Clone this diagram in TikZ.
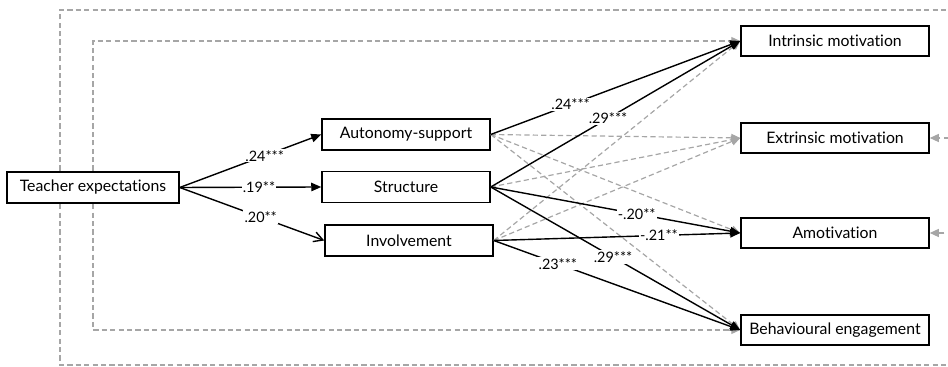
\documentclass[tikz,border=0pt]{standalone}
\usepackage{fontspec}
\setmainfont{Lato}[Ligatures=NoCommon]
\usetikzlibrary{arrows.meta,backgrounds}

\tikzset{
  box/.style={draw,line width=0.75pt,fill=white,minimum height=15.5pt,inner sep=0pt,font=\fontsize{7.9}{9}\selectfont},
  midbox/.style={box,minimum width=84pt},
  outbox/.style={box,minimum width=94pt,minimum height=15pt},
  sig/.style={draw=black,line width=0.7pt,-{Triangle[length=5pt,width=4.2pt]}},
  ns/.style={draw=black!35,line width=0.6pt,dash pattern=on 2.6pt off 1.6pt,-{Triangle[length=4.5pt,width=4pt]}},
  est/.style={fill=white,inner sep=0.6pt,font=\fontsize{7.2}{8}\selectfont}
}

\begin{document}
\begin{tikzpicture}[x=0.5pt,y=-0.5pt]
      \clip (0,0) rectangle (948,367);

      \node[box,minimum width=86pt] (te) at (93,187.5) {Teacher expectations};
      \node[midbox] (as) at (406,134.5) {Autonomy-support};
      \node[midbox] (st) at (406,187) {Structure};
      \node[midbox] (inv) at (409,240.5) {Involvement};
      \node[outbox] (im) at (835,41) {Intrinsic motivation};
      \node[outbox] (em) at (835,138) {Extrinsic motivation};
      \node[outbox] (am) at (835,233) {Amotivation};
      \node[outbox] (be) at (835,330) {Behavioural engagement};
      \coordinate (outer) at (60,187.5);

      \begin{scope}[on background layer]
      \draw[ns] (te.center) |- (im.west);
      \draw[ns] (te.center) |- (be.west);
      \draw[ns] (outer) |- (990,10) |- (em.east);
      \draw[ns] (outer) |- (990,365) |- (am.east);
      \end{scope}

      \draw[ns] (as.east) -- (em.west);
      \draw[ns] (as.east) -- (am.west);
      \draw[ns] (as.east) -- (be.west);
      \draw[ns] (st.east) -- (em.west);
      \draw[ns] (inv.east) -- (im.west);
      \draw[ns] (inv.east) -- (em.west);

      \draw[sig] (te.east) -- node[est,pos=0.6] {.24***} (as.west);
      \draw[sig] (te.east) -- node[est,pos=0.56] {.19**} (st.west);
      \draw[sig,-{Straight Barb[length=4.5pt,width=5pt]}] (te.east) -- node[est,pos=0.56] {.20**} (inv.west);
      \draw[sig] (as.east) -- node[est,pos=0.32] {.24***} (im.west);
      \draw[sig] (st.east) -- node[est,pos=0.47] {.29***} (im.west);
      \draw[sig] (st.east) -- node[est,pos=0.585] {-.20**} (am.west);
      \draw[sig] (st.east) -- node[est,pos=0.49] {.29***} (be.west);
      \draw[sig] (inv.east) -- node[est,pos=0.67] {-.21**} (am.west);
      \draw[sig] (inv.east) -- node[est,pos=0.26] {.23***} (be.west);

   \end{tikzpicture}
\end{document}
